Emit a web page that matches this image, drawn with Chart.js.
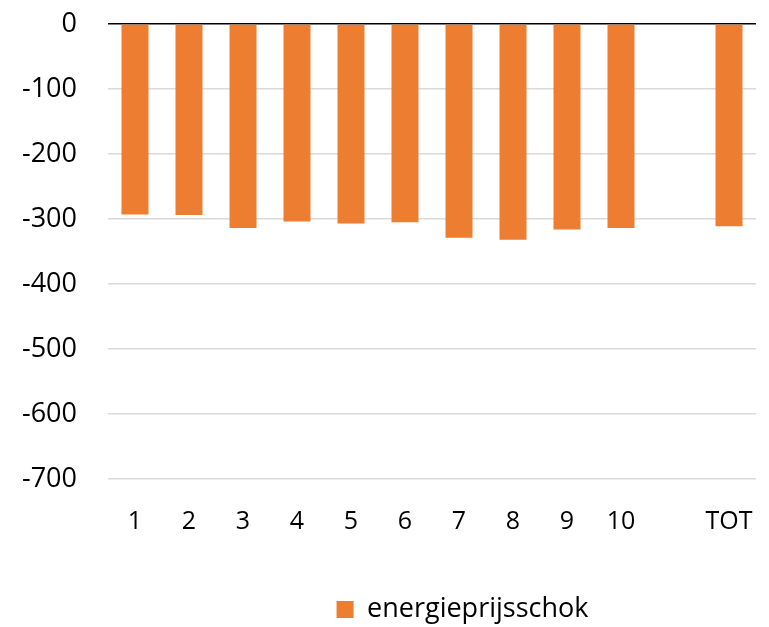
<!DOCTYPE html>
<html lang="nl">
<head>
<meta charset="UTF-8">
<title>energieprijsschok</title>
<script src="https://cdn.jsdelivr.net/npm/chart.js"></script>
<style>
  html, body { margin: 0; padding: 0; background: #fff; }
  #wrap { width: 769px; height: 627px; }
</style>
</head>
<body>
<div id="wrap"><canvas id="chart" width="769" height="627"></canvas></div>
<script>
// categories (deciles + total, with a gap before TOT)
const categories = ['1', '2', '3', '4', '5', '6', '7', '8', '9', '10', '', 'TOT'];
// values
const shockValues = [-293, -294, -314, -304, -307, -305, -329, -332, -316, -314, null, -311];
const seriesName = 'energieprijsschok';
const yMin = -700, yMax = 0, yStep = 100;

const orange = '#ED7D31';
const font = "'Open Sans', 'Liberation Sans', sans-serif";

// nudge legend to where the original has it
const legendShift = {
  id: 'legendShift',
  afterLayout(chart) {
    const lg = chart.legend;
    if (!lg) return;
    lg.left += 78;
    lg.right += 78;
    lg.top += 6;
    lg.bottom += 6;
  }
};

new Chart(document.getElementById('chart'), {
  type: 'bar',
  data: {
    labels: categories,
    datasets: [{
      label: seriesName,
      data: shockValues,
      backgroundColor: orange,
      categoryPercentage: 1,
      barPercentage: 0.5
    }]
  },
  options: {
    responsive: false,
    animation: false,
    layout: { padding: 0 },
    plugins: {
      tooltip: { enabled: false },
      legend: {
        position: 'bottom',
        labels: {
          boxWidth: 17,
          boxHeight: 17,
          padding: 6,
          color: '#000',
          font: { family: font, size: 27 }
        }
      }
    },
    scales: {
      x: {
        grid: { display: false, drawTicks: false },
        border: { display: false },
        ticks: { color: '#000', padding: 28, font: { family: font, size: 25 } },
        afterFit(scale) {
          scale.height = 105;
          scale.paddingLeft = 0;
          scale.paddingRight = 13;
        }
      },
      y: {
        min: yMin,
        max: yMax,
        ticks: {
          stepSize: yStep,
          color: '#000',
          padding: 31,
          font: { family: font, size: 27 }
        },
        border: { display: false },
        grid: {
          drawTicks: false,
          color: ctx => ctx.tick && ctx.tick.value === 0 ? '#000' : '#d9d9d9',
          lineWidth: 1.5
        },
        afterFit(scale) {
          scale.width = 108;
          scale.paddingTop = 24;
          scale.paddingBottom = 0;
        }
      }
    }
  },
  plugins: [legendShift]
});
</script>
</body>
</html>
